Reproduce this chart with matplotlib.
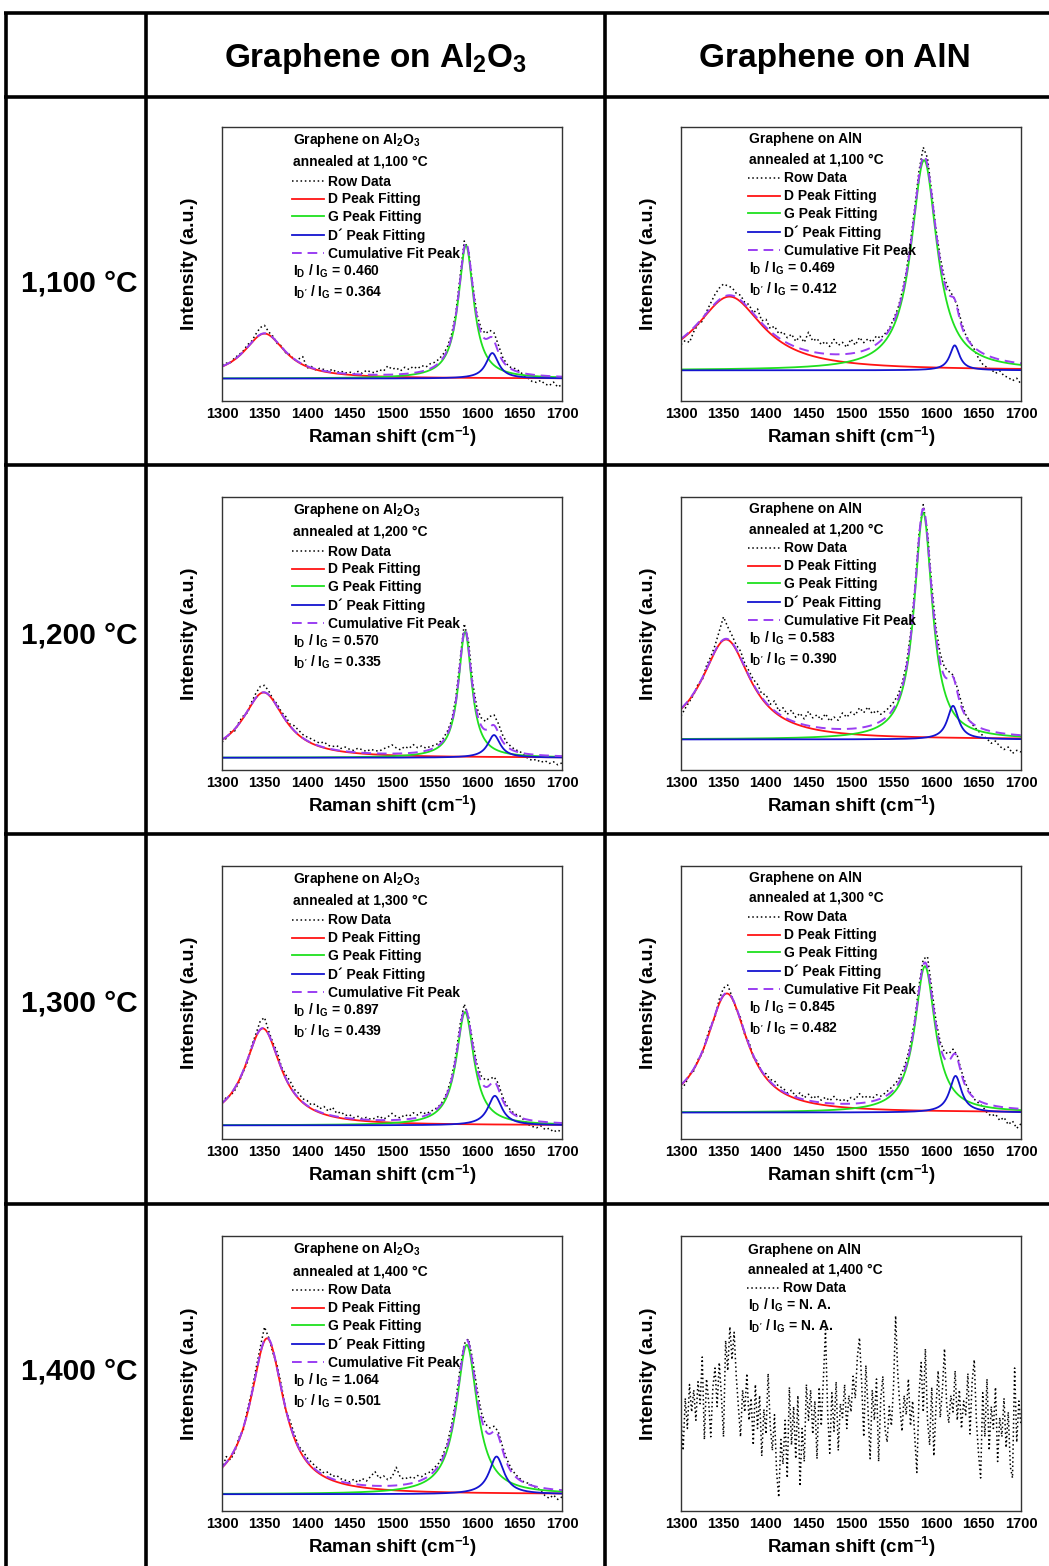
import numpy as np
import matplotlib
matplotlib.use("Agg")
import matplotlib.pyplot as plt
from matplotlib.lines import Line2D

plt.rcParams["font.family"] = ["Liberation Sans", "DejaVu Sans"]
plt.rcParams["font.weight"] = "bold"
plt.rcParams["mathtext.fontset"] = "custom"
plt.rcParams["mathtext.rm"] = "Liberation Sans:bold"
plt.rcParams["mathtext.it"] = "Liberation Sans:bold"
plt.rcParams["mathtext.bf"] = "Liberation Sans:bold"
plt.rcParams["mathtext.default"] = "regular"

# ------------------------------------------------------------------ data
temperatures = ["1,100", "1,200", "1,300", "1,400"]
substrates = ["Al$_2$O$_3$", "AlN"]
xticks = [1300, 1350, 1400, 1450, 1500, 1550, 1600, 1650, 1700]

raman_x = list(range(1300, 1701, 5))
noise_x = list(np.arange(1300, 1700.01, 2.5))

raw_al2o3_1100 = [13.2, 13.8, 14.0, 15.8, 16.9, 18.3, 20.5, 21.9, 24.5, 26.8,
                  27.6, 25.2, 23.6, 21.0, 20.1, 17.6, 16.9, 15.0, 15.3, 16.2,
                  12.0, 12.6, 11.4, 11.9, 11.5, 10.8, 11.6, 10.4, 10.9, 10.2,
                  10.6, 9.9, 10.8, 10.1, 11.2, 10.6, 10.3, 11.4, 10.9, 12.8,
                  11.6, 12.1, 11.0, 12.3, 11.5, 12.6, 11.8, 12.9, 12.4, 13.6,
                  14.1, 15.2, 17.0, 19.6, 24.2, 32.0, 45.1, 58.4, 55.2, 42.3,
                  31.5, 26.4, 24.6, 25.8, 24.9, 20.6, 16.1, 13.5, 12.2, 11.8,
                  10.9, 9.4, 8.3, 7.1, 6.8, 7.5, 6.2, 5.6, 6.9, 5.1,
                  6.0]
raw_al2o3_1200 = [10.2, 11.6, 13.9, 14.3, 17.6, 19.8, 21.0, 25.0, 28.2, 30.6,
                  31.0, 28.9, 26.0, 24.1, 21.2, 19.6, 16.8, 16.2, 14.6, 13.0,
                  12.1, 11.4, 10.6, 9.8, 10.3, 9.0, 8.6, 8.9, 7.9, 8.4,
                  7.6, 7.2, 8.0, 7.4, 6.8, 7.6, 7.1, 6.9, 7.8, 8.3,
                  9.2, 8.1, 7.4, 8.6, 7.9, 9.3, 8.2, 8.8, 8.0, 8.6,
                  9.1, 9.8, 11.5, 14.1, 18.0, 26.2, 40.0, 53.6, 47.1, 31.8,
                  22.6, 19.1, 17.8, 19.6, 20.2, 17.1, 12.9, 10.1, 8.6, 7.4,
                  6.9, 5.6, 4.2, 3.5, 3.9, 2.8, 3.4, 2.4, 3.0, 1.9,
                  2.6]
raw_al2o3_1300 = [13.6, 15.2, 15.9, 17.8, 20.9, 24.6, 28.2, 34.3, 38.6, 43.2,
                  44.5, 39.5, 35.2, 31.8, 26.4, 23.5, 21.3, 18.2, 16.8, 14.7,
                  14.1, 12.5, 12.8, 11.1, 11.9, 10.2, 11.6, 9.4, 9.9, 8.6,
                  8.9, 7.8, 8.3, 7.5, 7.9, 7.2, 7.6, 8.4, 7.3, 8.1,
                  9.4, 8.2, 7.7, 8.9, 8.3, 9.6, 8.8, 9.9, 9.2, 10.1,
                  10.8, 12.0, 13.9, 17.3, 22.4, 30.6, 41.8, 49.4, 44.7, 35.5,
                  27.3, 23.1, 21.6, 21.9, 22.8, 20.4, 15.6, 12.3, 10.4, 9.1,
                  8.6, 7.0, 5.3, 4.6, 4.1, 4.8, 3.5, 3.9, 2.6, 3.3,
                  2.4]
raw_al2o3_1400 = [15.2, 19.8, 18.6, 21.5, 26.8, 29.4, 37.0, 43.5, 51.8, 59.5,
                  66.9, 63.0, 57.4, 52.8, 45.5, 36.6, 32.9, 28.1, 23.6, 21.9,
                  19.4, 17.8, 16.2, 15.1, 13.8, 14.2, 12.6, 12.9, 11.7, 11.2,
                  10.6, 11.5, 10.4, 11.8, 10.9, 12.6, 14.3, 11.9, 12.8, 11.4,
                  12.3, 15.9, 12.1, 11.6, 12.4, 11.8, 12.9, 12.5, 13.6, 14.2,
                  15.8, 17.4, 20.5, 24.6, 31.2, 40.1, 51.6, 60.8, 62.6, 54.8,
                  44.5, 35.9, 31.6, 30.2, 30.8, 28.9, 23.5, 18.9, 15.6, 13.4,
                  11.9, 10.6, 10.1, 9.2, 8.5, 7.4, 5.6, 4.6, 5.8, 4.2,
                  5.1]
raw_aln_1100 = [20.6, 22.1, 21.4, 25.3, 27.9, 29.1, 32.6, 35.8, 38.9, 41.2,
                42.7, 42.0, 41.4, 39.3, 38.6, 36.0, 35.2, 32.1, 33.6, 29.3,
                29.8, 26.4, 27.3, 24.6, 25.2, 23.1, 24.4, 21.8, 23.6, 21.4,
                25.1, 21.9, 22.8, 20.6, 21.7, 19.9, 22.5, 20.3, 21.4, 19.6,
                22.6, 20.4, 23.2, 21.3, 22.7, 21.5, 23.8, 22.9, 24.6, 26.3,
                29.9, 33.6, 39.5, 47.2, 58.1, 70.6, 84.0, 92.6, 88.7, 76.1,
                62.5, 52.4, 44.6, 40.8, 38.3, 34.9, 28.6, 24.1, 21.5, 18.9,
                15.6, 13.4, 12.2, 11.5, 10.1, 11.0, 9.2, 8.6, 7.4, 8.3,
                6.2]
raw_aln_1200 = [19.8, 22.6, 25.1, 27.6, 31.4, 33.0, 38.2, 41.5, 45.6, 50.8,
                56.1, 52.4, 49.3, 45.8, 43.6, 39.1, 36.3, 33.2, 31.4, 27.9,
                27.6, 24.1, 25.3, 21.6, 22.8, 20.4, 21.9, 19.3, 20.8, 18.7,
                21.5, 19.1, 20.2, 18.4, 20.6, 17.9, 19.4, 18.2, 20.9, 19.3,
                21.2, 20.1, 22.8, 21.0, 23.1, 20.6, 21.8, 20.4, 21.5, 22.9,
                24.8, 27.3, 31.6, 38.5, 49.7, 66.2, 86.4, 97.2, 87.1, 67.6,
                51.8, 42.5, 37.6, 36.1, 34.8, 30.2, 24.6, 20.3, 17.9, 15.8,
                14.2, 12.6, 11.4, 9.8, 10.6, 8.7, 7.5, 8.4, 6.1, 7.2,
                6.6]
raw_aln_1300 = [18.4, 20.1, 23.6, 24.9, 29.1, 31.2, 36.8, 41.5, 44.6, 51.2,
                55.3, 56.4, 52.1, 47.6, 44.5, 38.2, 35.6, 30.1, 28.4, 24.6,
                23.9, 21.8, 21.3, 19.2, 18.7, 16.9, 17.8, 15.6, 16.9, 15.1,
                16.4, 14.8, 15.9, 14.2, 15.3, 14.0, 15.6, 13.9, 14.6, 13.7,
                15.2, 14.4, 16.6, 15.0, 15.8, 14.9, 16.2, 15.7, 16.8, 18.1,
                19.6, 21.4, 24.3, 28.6, 34.7, 43.8, 56.2, 65.9, 66.8, 55.1,
                43.2, 35.6, 31.8, 31.2, 32.9, 30.6, 24.8, 20.2, 17.1, 14.6,
                13.2, 11.9, 9.6, 8.4, 9.1, 6.8, 7.9, 5.3, 6.6, 3.9,
                5.6]
raw_aln_1400 = [34, 22, 41, 30, 46, 36, 44, 33, 47, 39,
                56, 26, 48, 40, 27, 45, 52, 38, 54, 42,
                27, 62, 51, 67, 55, 65, 49, 38, 27, 44,
                36, 50, 33, 41, 24, 46, 30, 42, 20, 37,
                28, 50, 31, 22, 35, 14, 5, 26, 17, 33,
                12, 45, 24, 38, 19, 42, 9, 30, 18, 46,
                33, 44, 28, 40, 19, 45, 31, 48, 66, 36,
                21, 43, 29, 47, 22, 39, 34, 46, 30, 42,
                36, 49, 41, 56, 63, 47, 27, 53, 37, 19,
                44, 33, 48, 18, 41, 49, 30, 25, 38, 31,
                45, 71, 50, 38, 29, 42, 35, 48, 31, 40,
                27, 14, 42, 54, 36, 59, 33, 24, 45, 20,
                38, 51, 34, 44, 59, 39, 32, 42, 36, 51,
                33, 44, 30, 40, 35, 50, 28, 47, 55, 33,
                21, 12, 43, 27, 48, 22, 38, 30, 45, 18,
                34, 27, 41, 23, 36, 16, 12, 52, 25, 40,
                31]

# Lorentzian fit parameters: (centre cm-1, height, HWHM)
al2o3_baseline = [8.2, 4.5, 5.0, 6.1]
al2o3_D = [(1350, 16.4, 30), (1349, 23.9, 30), (1348, 35.5, 26), (1353, 56.7, 24)]
al2o3_G = [(1587, 48.6, 11), (1586, 46.1, 9.5), (1586, 41.5, 12.5), (1588, 54.3, 15)]
al2o3_Dp = [(1618, 9.3, 9), (1620, 8.3, 9), (1621, 10.8, 10), (1623, 13.7, 10.5)]
aln_baseline = [11.2, 11.2, 9.7]
aln_D = [(1357, 26.9, 48), (1353, 36.6, 35), (1354, 43.6, 29.5)]
aln_G = [(1586, 76.7, 18.5), (1585, 83.1, 13), (1587, 53.6, 14.5)]
aln_Dp = [(1622, 9.1, 7), (1620, 12.3, 8), (1623, 13.4, 8.5)]

al2o3_ID_IG = ["0.460", "0.570", "0.897", "1.064"]
al2o3_IDp_IG = ["0.364", "0.335", "0.439", "0.501"]
aln_ID_IG = ["0.469", "0.583", "0.845", "N. A."]
aln_IDp_IG = ["0.412", "0.390", "0.482", "N. A."]

al2o3_raw = [raw_al2o3_1100, raw_al2o3_1200, raw_al2o3_1300, raw_al2o3_1400]
aln_raw = [raw_aln_1100, raw_aln_1200, raw_aln_1300]

# ------------------------------------------------------------------ style
RED = "#ff1414"
GREEN = "#1fe01f"
BLUE = "#1414d0"
PURPLE = "#9a3ef2"
RAW_STYLE = dict(ls=(0, (1, 1.8)), color="black", lw=1.1)

W, H = 1049, 1566
fig = plt.figure(figsize=(W / 100, H / 100), dpi=100)


def fx(x):
    return x / W


def fy(y):
    return 1 - y / H


# table grid
LW = 2.6
for y in [13, 97, 465, 834, 1204]:
    fig.add_artist(Line2D([fx(4), fx(1049)], [fy(y), fy(y)], color="black",
                          lw=LW, solid_capstyle="butt"))
for x in [6, 146, 605]:
    fig.add_artist(Line2D([fx(x), fx(x)], [fy(12), fy(1566)], color="black",
                          lw=LW, solid_capstyle="butt"))

fig.text(fx(376), fy(58), "Graphene on " + substrates[0], ha="center", va="center",
         fontsize=24, fontweight="bold")
fig.text(fx(835), fy(58), "Graphene on " + substrates[1], ha="center", va="center",
         fontsize=24, fontweight="bold")

row_label_y = [283, 635, 1003, 1371]
for t, yl in zip(temperatures, row_label_y):
    fig.text(fx(79), fy(yl), t + " °C", ha="center", va="center",
             fontsize=21.5, fontweight="bold")

col_left = [222, 681]
col_right = [562, 1021]
row_top = [127, 497, 866, 1236]
row_bot = [401, 770, 1139, 1511]

x_fit = np.linspace(1300, 1700, 801)


def lorentz(x, c, h, w):
    return h / (1.0 + ((x - c) / w) ** 2)


def make_axes(r, c):
    l, rr = col_left[c], col_right[c]
    t, b = row_top[r], row_bot[r]
    ax = fig.add_axes([fx(l), fy(b), (rr - l) / W, (b - t) / H])
    ax.set_xlim(1300, 1700)
    ax.set_ylim(0, 100)
    ax.set_xticks(xticks)
    ax.set_yticks([])
    ax.tick_params(axis="x", length=0, pad=4, labelsize=10.5)
    for lab in ax.get_xticklabels():
        lab.set_fontweight("bold")
    for s in ax.spines.values():
        s.set_color("#333333")
        s.set_linewidth(1.0)
    ax.set_xlabel("Raman shift (cm$^{-1}$)", fontsize=13.5, fontweight="bold", labelpad=3)
    ax.set_ylabel("Intensity (a.u.)", fontsize=14, fontweight="bold", labelpad=17)
    return ax, (b - t)


def draw_fit_panel(r, c, raw, base, Dp, Gp, Pp, sub, rdg, rdpg, offs, tx, lx):
    ax, hpx = make_axes(r, c)
    LD = lorentz(x_fit, *Dp)
    LG = lorentz(x_fit, *Gp)
    LP = lorentz(x_fit, *Pp)
    ax.plot(raman_x, raw, label="Row Data", **RAW_STYLE)
    ax.plot(x_fit, base + LD, color=RED, lw=1.3, label="D Peak Fitting")
    ax.plot(x_fit, base + LG, color=GREEN, lw=1.3, label="G Peak Fitting")
    ax.plot(x_fit, base + LP, color=BLUE, lw=1.3, label="D\u00b4 Peak Fitting")
    ax.plot(x_fit, base + LD + LG + LP, color=PURPLE, lw=1.4, ls=(0, (5, 3)),
            label="Cumulative Fit Peak")

    def yy(px):
        return 1 - px / hpx

    ax.text(tx, yy(offs[0]), "Graphene on " + sub, transform=ax.transAxes,
            va="center", ha="left", fontsize=10, fontweight="bold")
    ax.text(tx, yy(offs[1]), "annealed at " + temperatures[r] + " °C",
            transform=ax.transAxes, va="center", ha="left", fontsize=10, fontweight="bold")
    ax.legend(loc="upper left", bbox_to_anchor=(lx, yy(offs[2] - 5.5)), frameon=False,
              handlelength=2.3, handletextpad=0.32, labelspacing=0.28,
              borderpad=0, borderaxespad=0, prop={"weight": "bold", "size": 10})
    ax.text(tx, yy(offs[7]), "I$_\\mathrm{D}$ / I$_\\mathrm{G}$ = " + rdg,
            transform=ax.transAxes, va="center", ha="left", fontsize=10)
    ax.text(tx, yy(offs[8]), "I$_{\\mathrm{D}'}$ / I$_\\mathrm{G}$ = " + rdpg,
            transform=ax.transAxes, va="center", ha="left", fontsize=10)


offs_a = [13, 35, 53, 71, 89, 107, 125, 144, 165]
offs_b = [12, 32, 50, 68, 86, 104, 122, 141, 162]

for r in range(4):
    draw_fit_panel(r, 0, al2o3_raw[r], al2o3_baseline[r], al2o3_D[r], al2o3_G[r],
                   al2o3_Dp[r], substrates[0], al2o3_ID_IG[r], al2o3_IDp_IG[r],
                   offs_a, 0.208, 0.205)
for r in range(3):
    draw_fit_panel(r, 1, aln_raw[r], aln_baseline[r], aln_D[r], aln_G[r],
                   aln_Dp[r], substrates[1], aln_ID_IG[r], aln_IDp_IG[r],
                   offs_b, 0.200, 0.197)

# AlN 1,400 °C: raw data only
ax, hpx = make_axes(3, 1)
ax.plot(noise_x, raw_aln_1400, label="Row Data", **RAW_STYLE)


def yy4(px):
    return 1 - px / hpx


ax.text(0.197, yy4(14), "Graphene on " + substrates[1], transform=ax.transAxes,
        va="center", ha="left", fontsize=10, fontweight="bold")
ax.text(0.197, yy4(33), "annealed at " + temperatures[3] + " °C", transform=ax.transAxes,
        va="center", ha="left", fontsize=10, fontweight="bold")
ax.legend(loc="upper left", bbox_to_anchor=(0.194, yy4(51 - 5.5)), frameon=False,
          handlelength=2.3, handletextpad=0.32, borderpad=0, borderaxespad=0,
          prop={"weight": "bold", "size": 10})
ax.text(0.197, yy4(69), "I$_\\mathrm{D}$ / I$_\\mathrm{G}$ = " + aln_ID_IG[3],
        transform=ax.transAxes, va="center", ha="left", fontsize=10)
ax.text(0.197, yy4(90), "I$_{\\mathrm{D}'}$ / I$_\\mathrm{G}$ = " + aln_IDp_IG[3],
        transform=ax.transAxes, va="center", ha="left", fontsize=10)

fig.savefig("out.png", dpi=100)
